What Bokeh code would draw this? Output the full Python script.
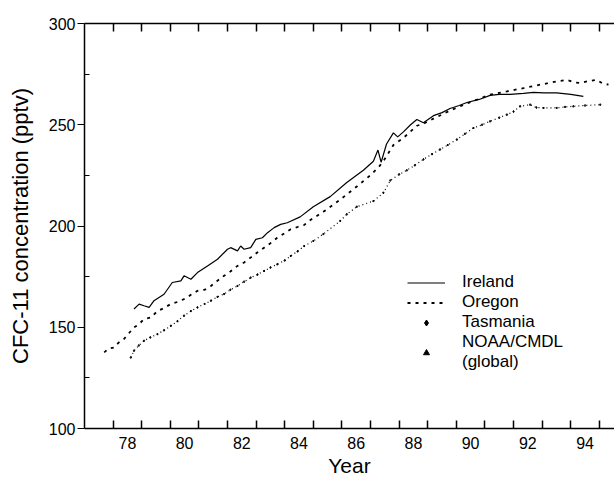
from bokeh.plotting import figure
from bokeh.models import Range1d, FixedTicker, LinearAxis, Legend, LegendItem
from bokeh.embed import file_html
from bokeh.resources import INLINE

# ---------------- data ----------------
ireland_year = [1978.73, 1978.91, 1979.08, 1979.26, 1979.43, 1979.78, 1980.07, 1980.37, 1980.48, 1980.72,
                1980.95, 1981.30, 1981.65, 1982.00, 1982.11, 1982.35, 1982.46, 1982.58, 1982.81, 1982.99,
                1983.22, 1983.40, 1983.63, 1983.86, 1984.09, 1984.54, 1985.00, 1985.59, 1986.17, 1986.75,
                1987.10, 1987.26, 1987.37, 1987.56, 1987.80, 1987.95, 1988.15, 1988.40, 1988.62, 1988.85,
                1989.20, 1989.50, 1989.78, 1990.10, 1990.37, 1990.80, 1991.18, 1991.50, 1991.88, 1992.35,
                1992.70, 1993.05, 1993.51, 1994.00, 1994.44]
ireland_cfc = [159.0, 161.4, 160.6, 159.8, 163.1, 166.3, 172.1, 172.9, 175.4, 173.7,
               177.0, 180.3, 183.6, 188.5, 189.3, 187.7, 190.1, 188.5, 189.3, 193.4,
               194.2, 196.7, 199.2, 200.8, 201.6, 204.5, 209.5, 214.5, 221.5, 227.5,
               232.0, 237.5, 231.5, 240.5, 246.0, 244.0, 246.5, 250.0, 252.6, 251.0,
               254.5, 256.0, 258.0, 259.5, 261.0, 262.5, 264.5, 265.0, 265.0, 265.5,
               266.0, 265.7, 265.7, 265.0, 264.0]

oregon_year = [1977.69, 1977.85, 1978.03, 1978.20, 1978.38, 1978.55, 1978.73, 1978.90, 1979.08, 1979.32,
               1979.55, 1979.78, 1980.02, 1980.25, 1980.48, 1980.72, 1980.95, 1981.20, 1981.42, 1981.65,
               1981.88, 1982.10, 1982.35, 1982.58, 1982.81, 1983.05, 1983.28, 1983.50, 1983.74, 1984.00,
               1984.21, 1984.45, 1984.68, 1984.90, 1985.35, 1985.94, 1986.52, 1986.99, 1987.28, 1987.45,
               1987.80, 1988.15, 1988.62, 1988.85, 1989.20, 1989.78, 1990.37, 1991.18, 1991.77, 1992.35,
               1992.93, 1993.20, 1993.51, 1993.86, 1994.10, 1994.33, 1994.60, 1994.91, 1995.10, 1995.32]
oregon_cfc = [137.6, 139.5, 140.0, 142.5, 144.2, 147.0, 149.9, 151.5, 154.0, 154.8,
              158.0, 159.5, 161.5, 162.5, 163.9, 166.0, 168.0, 168.5, 170.4, 173.0,
              175.4, 177.5, 180.3, 182.0, 184.4, 187.0, 189.3, 191.5, 194.2, 196.5,
              198.4, 199.5, 200.5, 203.0, 207.0, 213.0, 219.5, 225.0, 229.0, 232.0,
              240.0, 243.5, 249.5, 250.5, 253.0, 257.0, 260.5, 264.9, 266.5, 268.1,
              269.8, 270.5, 271.4, 272.2, 271.0, 270.6, 271.5, 272.2, 270.5, 269.8]

tasmania_year = [1978.62, 1978.73, 1978.90, 1979.08, 1979.30, 1979.55, 1979.78, 1980.02, 1980.25, 1980.48,
                 1980.72, 1980.95, 1981.20, 1981.42, 1981.65, 1981.88, 1982.10, 1982.35, 1982.58, 1982.81,
                 1983.05, 1983.28, 1983.50, 1983.74, 1984.00, 1984.21, 1984.45, 1984.68, 1985.00, 1985.35,
                 1985.94, 1986.17, 1986.52, 1987.10, 1987.45, 1987.69, 1988.00, 1988.27, 1988.55, 1988.85,
                 1989.15, 1989.43, 1989.70, 1990.02, 1990.30, 1990.60, 1990.90, 1991.18, 1991.50, 1991.77,
                 1992.00, 1992.23, 1992.58, 1992.80, 1993.05, 1993.51, 1993.80, 1994.09, 1994.50, 1995.03]
tasmania_cfc = [135.1, 138.4, 141.0, 143.3, 145.0, 146.6, 148.5, 150.7, 153.0, 155.7,
                158.0, 159.8, 161.5, 163.1, 165.0, 166.4, 168.5, 170.4, 172.5, 174.5,
                176.0, 177.8, 179.5, 181.1, 183.0, 185.2, 187.5, 190.1, 192.6, 196.0,
                202.5, 205.8, 209.5, 212.3, 216.4, 222.5, 225.5, 227.5, 230.0, 232.9,
                235.5, 237.8, 240.0, 242.7, 245.5, 248.4, 250.0, 251.7, 253.5, 255.0,
                256.5, 259.1, 259.9, 258.5, 258.3, 258.3, 258.8, 259.1, 259.5, 259.9]

# NOAA/CMDL points are not distinguishable in the reference: no readable values
noaa_year = [float("nan")]
noaa_cfc = [float("nan")]

year_tick_labels = ["78", "80", "82", "84", "86", "88", "90", "92", "94"]
year_label_pos = [1978.5, 1980.5, 1982.5, 1984.5, 1986.5, 1988.5, 1990.5, 1992.5, 1994.5]
year_ticks = list(range(1978, 1996))
y_major = [100, 150, 200, 250, 300]
y_minor = [125, 175, 225, 275]

FONT = "Liberation Sans"

p = figure(width=614, height=479, output_backend="svg", toolbar_location=None,
           x_range=Range1d(1977.0, 1995.53), y_range=Range1d(100, 300),
           min_border_left=84, min_border_right=0, min_border_top=23, min_border_bottom=51,
           x_axis_label="Year", y_axis_label="CFC-11 concentration (pptv)")
p.outline_line_color = None
p.grid.visible = False
p.background_fill_color = "white"
p.border_fill_color = "white"

# bottom axis
xa = p.xaxis[0]
xa.ticker = FixedTicker(ticks=year_label_pos, minor_ticks=year_ticks)
xa.major_label_overrides = {k: v for k, v in zip(year_label_pos, year_tick_labels)}
xa.major_tick_line_color = None
xa.major_tick_in = 0
xa.major_tick_out = 0
xa.minor_tick_in = 8
xa.minor_tick_out = 0
xa.minor_tick_line_width = 1.5
xa.minor_tick_line_color = "black"
xa.axis_line_width = 1.5
xa.axis_line_color = "black"
xa.major_label_standoff = 8
xa.major_label_text_font = FONT
xa.major_label_text_font_size = "16px"
xa.major_label_text_color = "black"
xa.axis_label_standoff = 2
xa.axis_label_text_font = FONT
xa.axis_label_text_font_size = "21px"
xa.axis_label_text_font_style = "normal"
xa.axis_label_text_color = "black"

# left axis
ya = p.yaxis[0]
ya.ticker = FixedTicker(ticks=y_major, minor_ticks=y_minor)
ya.major_tick_in = 0
ya.major_tick_out = 7
ya.major_tick_line_width = 1.2
ya.major_tick_line_color = "black"
ya.minor_tick_in = 5
ya.minor_tick_out = 0
ya.minor_tick_line_color = "black"
ya.axis_line_width = 1.5
ya.axis_line_color = "black"
ya.major_label_standoff = 2
ya.major_label_text_font = FONT
ya.major_label_text_font_size = "16px"
ya.major_label_text_color = "black"
ya.axis_label_standoff = 13
ya.axis_label_text_font = FONT
ya.axis_label_text_font_size = "22px"
ya.axis_label_text_font_style = "normal"
ya.axis_label_text_color = "black"

# top axis (ticks only)
ta = LinearAxis(ticker=FixedTicker(ticks=[], minor_ticks=year_ticks))
ta.major_label_text_font_size = "0px"
ta.major_tick_in = 0
ta.major_tick_out = 0
ta.minor_tick_in = 8
ta.minor_tick_out = 0
ta.minor_tick_line_width = 1.5
ta.minor_tick_line_color = "black"
ta.axis_line_width = 1.5
ta.axis_line_color = "black"
ta.major_label_standoff = 0
p.add_layout(ta, "above")

# data
r_ire = p.line(ireland_year, ireland_cfc, line_color="black", line_width=1.2)
r_ore = p.line(oregon_year, oregon_cfc, line_color="black", line_width=1.8, line_dash="3 5")
r_tas_line = p.line(tasmania_year, tasmania_cfc, line_color="black", line_width=1.2, line_dash="1 3")
r_tas = p.scatter(tasmania_year, tasmania_cfc, marker="diamond", size=2, color="black")
r_noaa = p.scatter(noaa_year, noaa_cfc, marker="triangle", size=6, color="black")

legend = Legend(items=[
    LegendItem(label="Ireland", renderers=[r_ire]),
    LegendItem(label="Oregon", renderers=[r_ore]),
    LegendItem(label="Tasmania", renderers=[r_tas]),
    LegendItem(label="NOAA/CMDL\n(global)", renderers=[r_noaa]),
], location=(323, 56), glyph_width=38, glyph_height=15, label_height=20,
    label_standoff=17, spacing=0, padding=0, margin=0,
    border_line_color=None, background_fill_alpha=0,
    label_text_font=FONT, label_text_font_size="17px", label_text_color="black")
p.add_layout(legend)

open("out.html", "w").write(file_html(p, INLINE))
